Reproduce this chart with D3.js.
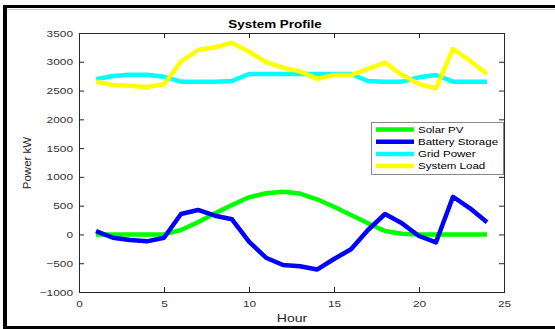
<!DOCTYPE html>
<html>
<head>
<meta charset="utf-8">
<script src="https://cdn.jsdelivr.net/npm/d3@7"></script>
<style>
  html, body { margin: 0; padding: 0; background: #fff; }
  svg { display: block; }
  text { font-family: "Liberation Sans", Arial, sans-serif; }
</style>
</head>
<body>
<svg id="chart" width="555" height="329"></svg>
<script>
// Hourly system profile (kW)
const hours = d3.range(1, 25);
const solarPV = [0, 0, 0, 0, 0, 77, 211, 367, 511, 645, 715, 743, 710, 611, 482, 338, 193, 60, 13, 0, 0, 0, 0, 0];
const batteryStorage = [59, -57, -97, -120, -57, 355, 425, 326, 263, -126, -404, -531, -554, -610, -427, -258, 77, 355, 193, -27, -137, 655, 454, 211];
const gridPower = [2695, 2753, 2776, 2776, 2741, 2654, 2654, 2654, 2666, 2788, 2788, 2788, 2788, 2788, 2788, 2788, 2666, 2654, 2654, 2730, 2770, 2654, 2654, 2654];
const systemLoad = [2654, 2596, 2585, 2562, 2608, 3001, 3205, 3251, 3332, 3175, 2996, 2897, 2834, 2704, 2770, 2770, 2875, 2985, 2770, 2614, 2539, 3222, 3019, 2788];

const seriesNames = ["Solar PV", "Battery Storage", "Grid Power", "System Load"];
const seriesColors = ["#00ff00", "#0000ff", "#00ffff", "#ffff00"];
const seriesValues = [solarPV, batteryStorage, gridPower, systemLoad];

const xTicks = [0, 5, 10, 15, 20, 25];
const yTicks = [-1000, -500, 0, 500, 1000, 1500, 2000, 2500, 3000, 3500];

const svg = d3.select("#chart");
const plotLeft = 79, plotRight = 504, plotTop = 33, plotBottom = 292;

const x = d3.scaleLinear().domain([0, 25]).range([plotLeft, plotRight]);
const y = d3.scaleLinear().domain([-1000, 3500]).range([plotBottom, plotTop]);

// widen horizontal text glyphs by a factor
function widen(sel, factor) {
  sel.each(function () {
    const len = this.getComputedTextLength();
    d3.select(this).attr("textLength", len * factor).attr("lengthAdjust", "spacingAndGlyphs");
  });
}

// outer frame
svg.append("rect").attr("x", 0).attr("y", 0).attr("width", 555).attr("height", 329).attr("fill", "#fff");
svg.append("rect").attr("x", 3).attr("y", 5).attr("width", 4).attr("height", 324).attr("fill", "#000");
svg.append("rect").attr("x", 3).attr("y", 5).attr("width", 552).attr("height", 3).attr("fill", "#000");
svg.append("rect").attr("x", 3).attr("y", 326).attr("width", 552).attr("height", 3).attr("fill", "#000");
svg.append("line").attr("x1", 7).attr("x2", 555).attr("y1", 9.5).attr("y2", 9.5).attr("stroke", "#ccc").attr("stroke-width", 1);

const tickColor = "#262626";

// axes with inward ticks on all four sides
const gx = svg.append("g").attr("transform", `translate(0,${plotBottom})`)
  .call(d3.axisBottom(x).tickValues(xTicks).tickSize(-5).tickPadding(8).tickFormat(d3.format("d")));
const gxTop = svg.append("g").attr("transform", `translate(0,${plotTop})`)
  .call(d3.axisTop(x).tickValues(xTicks).tickSize(-5).tickFormat(""));
const gy = svg.append("g").attr("transform", `translate(${plotLeft},0)`)
  .call(d3.axisLeft(y).tickValues(yTicks).tickSize(-5).tickPadding(6).tickFormat(d3.format("d")));
const gyRight = svg.append("g").attr("transform", `translate(${plotRight},0)`)
  .call(d3.axisRight(y).tickValues(yTicks).tickSize(-5).tickFormat(""));

[gx, gxTop, gy, gyRight].forEach(g => {
  g.select(".domain").attr("stroke", tickColor).attr("stroke-width", 1);
  g.selectAll(".tick line").attr("stroke", tickColor);
  g.selectAll(".tick text").attr("fill", "#333").style("font-size", "9.5px").style("font-family", "'Liberation Sans', Arial, sans-serif");
});
gy.selectAll(".tick text").attr("x", -6);
widen(gx.selectAll(".tick text"), 1.25);
widen(gy.selectAll(".tick text"), 1.25);

// series lines
const line = d3.line().x((d, i) => x(hours[i])).y(d => y(d));
seriesValues.forEach((vals, k) => {
  svg.append("path")
    .datum(vals)
    .attr("fill", "none")
    .attr("stroke", seriesColors[k])
    .attr("stroke-width", 4.5)
    .attr("stroke-linejoin", "round")
    .attr("d", line);
});

// title and axis labels
const title = svg.append("text").attr("x", 275).attr("y", 27.5).attr("text-anchor", "middle")
  .style("font-size", "11px").style("font-weight", "bold").attr("fill", "#000").text("System Profile");
widen(title, 1.22);
const xLabel = svg.append("text").attr("x", 292).attr("y", 321.5).attr("text-anchor", "middle")
  .style("font-size", "11.5px").attr("fill", "#262626").text("Hour");
widen(xLabel, 1.22);
svg.append("text").attr("transform", "translate(31,163) rotate(-90)").attr("text-anchor", "middle")
  .style("font-size", "11.5px").attr("fill", "#262626").text("Power kW");

// legend
const lg = svg.append("g");
lg.append("rect").attr("x", 371.5).attr("y", 122.5).attr("width", 132).attr("height", 52)
  .attr("fill", "#fff").attr("stroke", "#888").attr("stroke-width", 1);
seriesNames.forEach((name, k) => {
  const ry = 129.5 + k * 12.2;
  lg.append("line").attr("x1", 376).attr("x2", 414).attr("y1", ry).attr("y2", ry)
    .attr("stroke", seriesColors[k]).attr("stroke-width", 4.5);
  const t = lg.append("text").attr("x", 418).attr("y", ry + 3.3)
    .style("font-size", "9px").attr("fill", "#000").text(name);
  widen(t, 1.28);
});
</script>
</body>
</html>
